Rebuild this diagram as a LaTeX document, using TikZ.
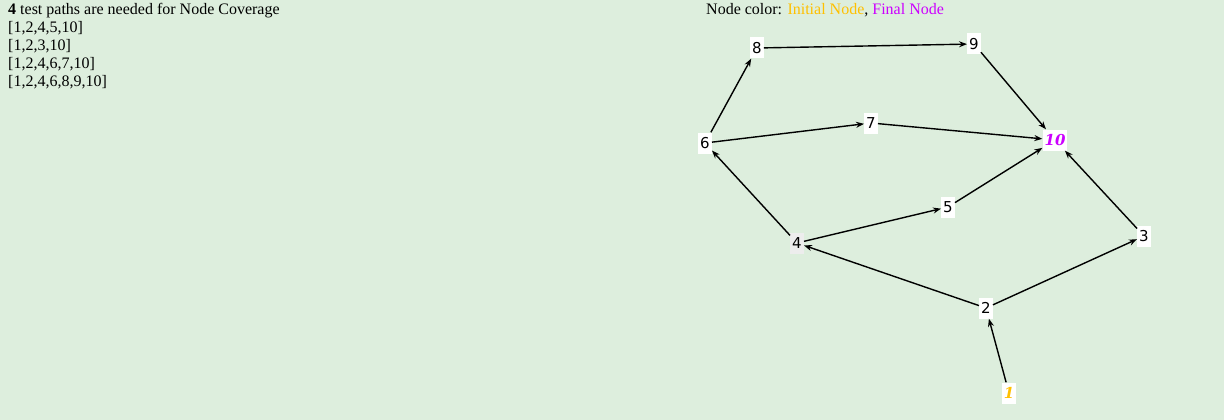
\documentclass[tikz,border=0pt]{standalone}
\usepackage{fontspec}
\setmainfont{Liberation Serif}
\newfontfamily\numfont{DejaVu Sans}
\newfontfamily\endfont{DejaVu Serif}
\usetikzlibrary{positioning,arrows.meta}
\definecolor{bggreen}{HTML}{DDEEDD}
\definecolor{initcol}{HTML}{FFC000}
\definecolor{finalcol}{HTML}{CC00FF}

\begin{document}
\begin{tikzpicture}[x=1pt, y=-1pt,
					vertex/.style={rectangle, fill=white, inner sep=2pt, minimum height=21pt, font=\numfont\fontsize{15}{15}\selectfont},
					greyvertex/.style={vertex, fill=black!7},
					special/.style={rectangle, fill=white, inner sep=2pt, minimum height=21pt, font=\endfont\fontsize{15}{15}\selectfont\bfseries\itshape},
					info/.style={anchor=north west, inner sep=0pt, align=left, font=\fontsize{16}{18}\selectfont},
					edge/.style={line width=1.4pt, -{Stealth[length=8pt, width=6pt]}}
				]
				\fill[bggreen] (0,0) rectangle (1224,420);
				\useasboundingbox (0,0) rectangle (1224,420);
				% text at the top
				\node[info] (summary) at (8,3) {\textbf{4} test paths are needed for Node Coverage\\
					{[1,2,4,5,10]}\\ {[1,2,3,10]}\\ {[1,2,4,6,7,10]}\\ {[1,2,4,6,8,9,10]}};
				\node[info] (legend) at (706,3) {Node color: \textcolor{initcol}{Initial Node}, \textcolor{finalcol}{Final Node}};
				% the graph
				\node[special, text=initcol] (one) at (1009,393) {1};
				\node[vertex] (two) at (986,308) {2};
				\node[vertex] (three) at (1144,236) {3};
				\node[greyvertex] (four) at (797,243) {4};
				\node[vertex] (five) at (948,207) {5};
				\node[vertex] (six) at (705,143) {6};
				\node[vertex] (seven) at (871,123) {7};
				\node[vertex] (eight) at (757,48) {8};
				\node[vertex] (nine) at (974,44) {9};
				\node[special, text=finalcol] (ten) at (1055,140) {10};
				\begin{scope}[edge]
				\draw (one) -- (two);
				\draw (two) -- (four);
				\draw (two) -- (three);
				\draw (four) -- (five);
				\draw (four) -- (six);
				\draw (five) -- (ten);
				\draw (three) -- (ten);
				\draw (six) -- (seven);
				\draw (six) -- (eight);
				\draw (seven) -- (ten);
				\draw (eight) -- (nine);
				\draw (nine) -- (ten);
				\end{scope}
				\end{tikzpicture}
\end{document}
